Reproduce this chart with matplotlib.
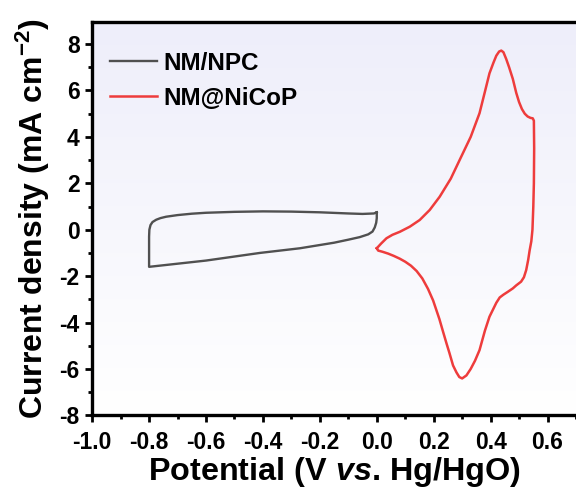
import numpy as np
import matplotlib
matplotlib.use("Agg")
import matplotlib.pyplot as plt
from matplotlib.ticker import MultipleLocator

matplotlib.rcParams['font.family'] = 'Liberation Sans'
matplotlib.rcParams['font.weight'] = 'bold'
matplotlib.rcParams['axes.labelweight'] = 'bold'
matplotlib.rcParams['axes.unicode_minus'] = False
matplotlib.rcParams['mathtext.fontset'] = 'custom'
matplotlib.rcParams['mathtext.rm'] = 'Liberation Sans:bold'
matplotlib.rcParams['mathtext.it'] = 'Liberation Sans:bold:italic'
matplotlib.rcParams['mathtext.bf'] = 'Liberation Sans:bold'

# NM/NPC cyclic voltammogram (V vs Hg/HgO, mA cm-2)
npc_x = [0.0, 0.0, -0.002, -0.007, -0.015, -0.03, -0.06, -0.1, -0.15, -0.27, -0.41, -0.6, -0.8,
         -0.8, -0.8, -0.799, -0.795, -0.788, -0.775, -0.76, -0.74, -0.7, -0.65, -0.6,
         -0.5, -0.4, -0.3, -0.2, -0.1, -0.05, -0.01, 0.0]
npc_y = [0.75, 0.5, 0.3, 0.1, -0.08, -0.2, -0.32, -0.43, -0.56, -0.8, -1.0, -1.33, -1.6,
         -1.0, -0.3, 0.0, 0.2, 0.33, 0.43, 0.5, 0.56, 0.63, 0.69, 0.73,
         0.77, 0.79, 0.78, 0.75, 0.7, 0.68, 0.7, 0.75]

# NM@NiCoP cyclic voltammogram
nicop_x = [0.0, 0.015, 0.034, 0.055, 0.081, 0.116, 0.151, 0.186, 0.221, 0.26, 0.291, 0.33,
           0.361, 0.38, 0.396, 0.41, 0.42, 0.43, 0.4375, 0.445, 0.455, 0.465, 0.478, 0.49,
           0.50, 0.51, 0.52, 0.53, 0.54, 0.548, 0.552, 0.553, 0.552, 0.550, 0.547, 0.543,
           0.537, 0.532, 0.525, 0.517, 0.507, 0.49, 0.478, 0.46, 0.445, 0.432, 0.42, 0.41,
           0.396, 0.38, 0.361, 0.345, 0.33, 0.315, 0.30, 0.29, 0.28, 0.268, 0.255, 0.245,
           0.233, 0.22, 0.198, 0.18, 0.16, 0.14, 0.12, 0.10, 0.081, 0.06, 0.04, 0.02,
           0.005, 0.0]
nicop_y = [-0.8, -0.6, -0.37, -0.22, -0.09, 0.13, 0.42, 0.85, 1.42, 2.2, 3.0, 4.0,
           5.02, 5.95, 6.74, 7.2, 7.5, 7.68, 7.72, 7.65, 7.35, 7.0, 6.5, 5.9,
           5.5, 5.2, 5.0, 4.88, 4.82, 4.8, 4.7, 3.5, 2.0, 1.0, 0.0, -0.5,
           -0.9, -1.3, -1.74, -2.05, -2.24, -2.4, -2.53, -2.68, -2.8, -2.92, -3.15, -3.4,
           -3.75, -4.35, -5.19, -5.65, -6.0, -6.28, -6.41, -6.35, -6.15, -5.85, -5.3, -4.9,
           -4.4, -3.85, -3.05, -2.55, -2.1, -1.78, -1.55, -1.38, -1.25, -1.13, -1.03, -0.95,
           -0.9, -0.8]

fig = plt.figure(figsize=(5.76, 5.01), dpi=100)
ax = fig.add_axes([0.16, 0.171, 0.84, 0.785])

# light lavender gradient background
grad = np.linspace(0, 1, 256).reshape(-1, 1)
cmap = matplotlib.colors.LinearSegmentedColormap.from_list('bg', ['#ffffff', '#eeeefa'])
ax.imshow(grad, aspect='auto', cmap=cmap, extent=[0, 1, 0, 1], origin='lower',
          transform=ax.transAxes, zorder=0)

ax.plot(npc_x, npc_y, color='#505050', lw=1.7, label='NM/NPC', zorder=2)
ax.plot(nicop_x, nicop_y, color='#ee3c3c', lw=1.8, label='NM@NiCoP', zorder=2)

ax.set_xlim(-1.0, 0.7)
ax.set_ylim(-8, 8.95)
ax.set_xticks([-1.0, -0.8, -0.6, -0.4, -0.2, 0.0, 0.2, 0.4, 0.6])
ax.set_yticks([-8, -6, -4, -2, 0, 2, 4, 6, 8])
ax.xaxis.set_minor_locator(MultipleLocator(0.1))
ax.yaxis.set_minor_locator(MultipleLocator(1))
ax.tick_params(which='major', direction='out', length=5, width=2, labelsize=16.5)
ax.tick_params(axis='x', which='major', pad=6)
ax.tick_params(axis='y', which='major', pad=4)
ax.tick_params(which='minor', direction='out', length=3, width=2)
ax.tick_params(top=False, right=False)
for lbl in ax.get_xticklabels() + ax.get_yticklabels():
    lbl.set_fontweight('bold')
for s in ['left', 'bottom', 'top']:
    ax.spines[s].set_linewidth(2.4)
ax.spines['right'].set_visible(False)

ax.set_xlabel('Potential (V $\\mathit{vs}$. Hg/HgO)', fontsize=23.3, fontweight='bold', labelpad=1)
ax.set_ylabel('Current density (mA cm$^{\\mathregular{-2}}$)', fontsize=23, fontweight='bold',
              labelpad=5)

leg = ax.legend(loc='upper left', bbox_to_anchor=(0.037, 0.925), frameon=False, borderpad=0,
                borderaxespad=0, prop={'size': 17.5, 'weight': 'bold'}, handlelength=1.95,
                handletextpad=0.25, labelspacing=0.5)

fig.savefig('out.png', dpi=100)
